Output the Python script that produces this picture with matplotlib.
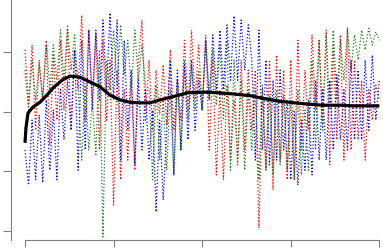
import numpy as np
import matplotlib
matplotlib.use("Agg")
import matplotlib.pyplot as plt

# iteration positions of the three chains (step 4)
x_chain = np.arange(0, 401, 4)

red = [3.04, 2.11, 3.12, 1.69, 2.87,  2.20, 3.12, 1.44, 2.95, 1.86,
       3.20, 2.03, 3.46, 1.69, 3.04,  2.37, 3.62, 1.86, 3.37, 2.20,
       3.29, 1.36, 3.20, 1.86, 2.87,  0.44, 2.70, 0.86, 2.37, 1.19,
       2.53, 1.02, 2.87, 3.54, 1.86,  2.87, 1.69, 2.70, 1.95, 2.79,
       1.78, 3.04, 1.69, 2.53, 1.86,  3.20, 2.03, 3.37, 2.20, 3.12,
       2.03, 3.29, 1.36, 2.87, 0.94,  2.37, 0.86, 2.45, 1.19, 2.20,
       1.19, 2.87, 1.36, 2.70, 1.69,  2.70, 0.05, 2.37, 1.02, 2.87,
       0.69, 2.95, 1.19, 2.70, 0.86,  2.87, 0.86, 3.20, 1.36, 2.70,
       1.69, 3.29, 2.03, 3.20, 1.78,  3.37, 1.11, 3.12, 1.53, 3.29,
       1.19, 3.42, 1.36, 2.87, 1.53,  2.53, 1.19, 2.37, 1.86, 2.45,
       2.20]

green = [2.70, 2.03, 2.87, 2.20, 2.79,  2.20, 3.20, 2.37, 3.12, 2.53,
         3.37, 2.53, 3.40, 2.70, 3.29,  2.37, 1.19, 2.45, 1.36, 2.20,
         1.28, 3.04, -0.10, 2.87, 2.37, 3.37, 2.45, 3.46, 2.62, 3.20,
         2.37, 3.37, 2.53, 3.12, 2.45,  2.37, 0.86, 2.45, 1.19, 2.20,
         1.02, 2.37, 0.94, 2.53, 1.36,  2.87, 1.86, 2.79, 2.03, 2.70,
         2.03, 3.20, 2.20, 3.04, 2.11,  3.12, 1.86, 3.20, 1.02, 2.87,
         1.11, 2.53, 1.02, 2.37, 1.36,  2.37, 0.86, 2.45, 1.02, 2.28,
         0.94, 2.37, 1.11, 2.28, 1.02,  2.20, 0.86, 2.37, 0.94, 2.03,
         1.02, 2.87, 1.36, 3.20, 1.69,  3.29, 2.03, 3.37, 2.20, 3.20,
         2.53, 3.37, 2.70, 3.29, 2.87,  3.37, 3.04, 3.40, 3.12, 3.34,
         3.20]

blue = [1.36, 0.77, 1.86, 0.86, 1.95,  0.81, 2.20, 1.02, 2.03, 0.86,
        2.37, 1.53, 2.53, 1.69, 3.04,  1.02, 3.20, 1.36, 3.37, 2.03,
        3.37, 2.20, 3.54, 2.37, 3.66,  2.20, 3.54, 1.19, 3.20, 1.69,
        2.70, 1.11, 2.53, 1.36, 2.37,  1.19, 2.03, 0.32, 1.86, 0.52,
        1.69, 2.87, 0.94, 2.70, 1.36,  2.79, 1.53, 2.87, 1.69, 2.53,
        2.03, 3.20, 2.20, 3.29, 2.37,  3.37, 2.37, 3.46, 2.53, 3.61,
        2.53, 3.54, 2.70, 3.46, 2.87,  1.19, 3.37, 1.36, 2.87, 1.11,
        2.53, 1.19, 2.70, 1.36, 2.20,  0.86, 2.03, 0.77, 1.86, 1.02,
        2.20, 0.94, 2.53, 1.19, 2.37,  1.19, 2.53, 1.36, 2.62, 1.53,
        2.37, 1.36, 2.87, 1.53, 2.70,  1.53, 2.87, 1.69, 2.95, 1.86,
        2.53]

# running mean
x_mean = [0, 1.1, 3.4, 9, 16.9, 24.8, 31.6, 41.8, 50.8, 62, 73.4, 84.7,
          95.9, 107.2, 118.5, 129.8, 141.1, 152.4, 165.9, 184, 203.2,
          216.7, 234.8, 254, 267.5, 285.6, 304.7, 318.3, 336.3, 355.5,
          370.2, 400]
y_mean = [1.48, 1.73, 1.98, 2.08, 2.16, 2.28, 2.40, 2.53, 2.60, 2.58,
          2.50, 2.42, 2.28, 2.20, 2.16, 2.15, 2.15, 2.20, 2.25, 2.32,
          2.33, 2.32, 2.30, 2.27, 2.23, 2.18, 2.15, 2.13, 2.11, 2.11,
          2.10, 2.10]

fig = plt.figure(figsize=(3.83, 2.52), dpi=100)
ax = fig.add_axes([11/383, 12/252, 372/383, 240/252])

ax.plot(x_chain, red, color='red', lw=0.9, ls=':')
ax.plot(x_chain, green, color='#1f7a1f', lw=0.9, ls=':')
ax.plot(x_chain, blue, color='blue', lw=0.9, ls=':')
ax.plot(x_mean, y_mean, color='black', lw=2.3, solid_capstyle='butt')

ax.set_xlim(-15.8, 404.1)
ax.set_ylim(-0.151, 3.876)
ax.set_xticks([0, 100, 200, 300, 400])
ax.set_yticks([0, 1, 2, 3])
ax.set_xticklabels([])
ax.set_yticklabels([])
for s in ['top', 'right']:
    ax.spines[s].set_visible(False)
for s in ['left', 'bottom']:
    ax.spines[s].set_color('#808080')
    ax.spines[s].set_linewidth(0.8)
ax.spines['bottom'].set_bounds(0, 400)
ax.tick_params(axis='x', length=5, width=0.8, color='#808080')
ax.tick_params(axis='y', length=5.8, width=0.8, color='#808080')

fig.savefig('out.png', dpi=100)
